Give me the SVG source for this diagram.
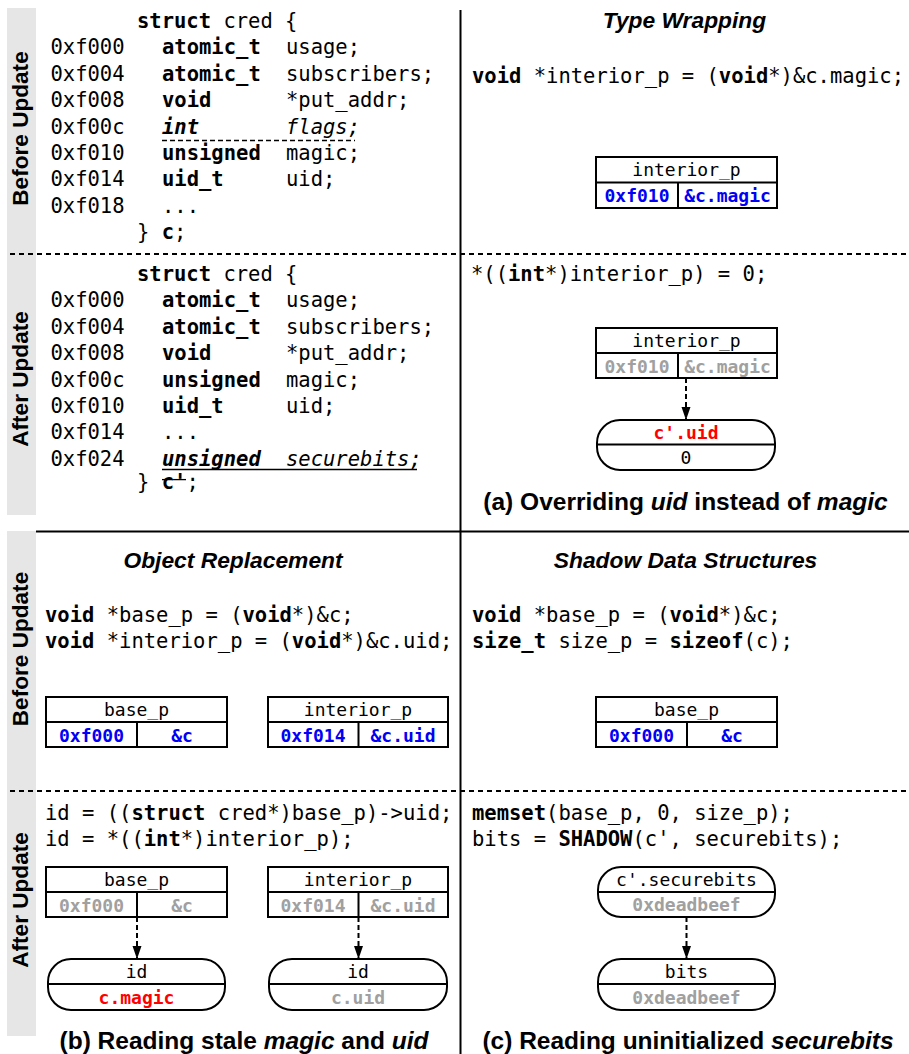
<svg xmlns="http://www.w3.org/2000/svg" width="909" height="1054" viewBox="0 0 909 1054">
  <style>
    .code { font-family: "DejaVu Sans Mono", monospace; font-size: 20.5px; fill: #000; }
    .b { font-weight: bold; }
    .i { font-style: italic; }
    .side { font-family: "Liberation Sans", Arial, sans-serif; font-weight: bold; font-size: 22.6px; text-anchor: middle; fill: #000; }
    .title { font-family: "Liberation Sans", Arial, sans-serif; font-weight: bold; font-style: italic; font-size: 22.8px; text-anchor: middle; fill: #000; }
    .cap { font-family: "Liberation Sans", Arial, sans-serif; font-weight: bold; font-size: 24.5px; text-anchor: middle; fill: #000; }
    .frame { fill: #fff; stroke: #000; stroke-width: 2; }
    .rule { stroke: #000; stroke-width: 2; fill: none; }
    .cell { font-family: "DejaVu Sans Mono", monospace; font-size: 18px; text-anchor: middle; fill: #000; }
    .blue { fill: #0000f5; font-weight: bold; }
    .gray { fill: #a0a0a0; font-weight: bold; }
    .red { fill: #ff0000; font-weight: bold; }
    .band { fill: #e6e6e6; }
    .sep { stroke: #000; stroke-width: 2; fill: none; }
    .sepdash { stroke: #000; stroke-width: 2; stroke-dasharray: 5 4; fill: none; }
    .conn { stroke: #000; stroke-width: 2; stroke-dasharray: 5 3; fill: none; marker-end: url(#ah); }
  </style>
  <defs>
    <marker id="ah" markerUnits="userSpaceOnUse" markerWidth="14" markerHeight="10" refX="13" refY="4.5" orient="auto">
      <path d="M0,0 L13,4.5 L0,9 z" fill="#000"/>
    </marker>
  </defs>

  <rect width="909" height="1054" fill="#fff"/>

  <!-- side bands with row labels -->
  <g id="bands">
    <rect class="band" x="7" y="8" width="29" height="507"/>
    <rect class="band" x="7" y="531" width="29" height="505"/>
    <text class="side" transform="translate(28,128.5) rotate(-90)">Before Update</text>
    <text class="side" transform="translate(28,379) rotate(-90)">After Update</text>
    <text class="side" transform="translate(28,649) rotate(-90)">Before Update</text>
    <text class="side" transform="translate(28,900) rotate(-90)">After Update</text>
  </g>

  <!-- panel separators -->
  <g id="separators">
    <line class="sep" x1="460.5" y1="10" x2="460.5" y2="1054"/>
    <line class="sep" x1="36" y1="531.5" x2="909" y2="531.5"/>
    <line class="sepdash" x1="10" y1="254" x2="909" y2="254"/>
    <line class="sepdash" x1="10" y1="791" x2="909" y2="791"/>
  </g>

  <!-- struct cred, old layout -->
  <g id="struct-old" class="code">
    <text x="137" y="28"><tspan class="b">struct</tspan> cred {</text>
    <text y="54.4"><tspan x="50.5">0xf000</tspan><tspan x="162" class="b">atomic_t</tspan><tspan x="286">usage;</tspan></text>
    <text y="80.8"><tspan x="50.5">0xf004</tspan><tspan x="162" class="b">atomic_t</tspan><tspan x="286">subscribers;</tspan></text>
    <text y="107.2"><tspan x="50.5">0xf008</tspan><tspan x="162" class="b">void</tspan><tspan x="286">*put_addr;</tspan></text>
    <text y="133.6"><tspan x="50.5">0xf00c</tspan><tspan x="162" class="b i">int</tspan><tspan x="286" class="i">flags;</tspan></text>
    <text y="160"><tspan x="50.5">0xf010</tspan><tspan x="162" class="b">unsigned</tspan><tspan x="286">magic;</tspan></text>
    <text y="186.4"><tspan x="50.5">0xf014</tspan><tspan x="162" class="b">uid_t</tspan><tspan x="286">uid;</tspan></text>
    <text y="212.8"><tspan x="50.5">0xf018</tspan><tspan x="162">...</tspan></text>
    <text x="137" y="239.2">} <tspan class="b">c</tspan>;</text>
    <line x1="162" y1="140.5" x2="355" y2="140.5" stroke="#000" stroke-width="1.3" stroke-dasharray="5 3"/>
  </g>

  <!-- struct cred, new layout -->
  <g id="struct-new" class="code">
    <text x="137" y="281"><tspan class="b">struct</tspan> cred {</text>
    <text y="307.4"><tspan x="50.5">0xf000</tspan><tspan x="162" class="b">atomic_t</tspan><tspan x="286">usage;</tspan></text>
    <text y="333.8"><tspan x="50.5">0xf004</tspan><tspan x="162" class="b">atomic_t</tspan><tspan x="286">subscribers;</tspan></text>
    <text y="360.2"><tspan x="50.5">0xf008</tspan><tspan x="162" class="b">void</tspan><tspan x="286">*put_addr;</tspan></text>
    <text y="386.6"><tspan x="50.5">0xf00c</tspan><tspan x="162" class="b">unsigned</tspan><tspan x="286">magic;</tspan></text>
    <text y="413"><tspan x="50.5">0xf010</tspan><tspan x="162" class="b">uid_t</tspan><tspan x="286">uid;</tspan></text>
    <text y="439.4"><tspan x="50.5">0xf014</tspan><tspan x="162">...</tspan></text>
    <text y="465.8"><tspan x="50.5">0xf024</tspan><tspan x="162" class="b i">unsigned</tspan><tspan x="286" class="i">securebits;</tspan></text>
    <text x="137" y="488.5">} <tspan class="b">c'</tspan>;</text>
    <line x1="162" y1="469.5" x2="417" y2="469.5" stroke="#000" stroke-width="1.3"/>
    <line x1="162" y1="479.6" x2="186" y2="479.6" stroke="#000" stroke-width="1.3"/>
  </g>

  <!-- panel (a): type wrapping -->
  <g id="panel-a" class="code">
    <text class="title" x="684.5" y="28">Type Wrapping</text>
    <text x="472" y="82.5"><tspan class="b">void</tspan> *interior_p = (<tspan class="b">void</tspan>*)&amp;c.magic;</text>
    <text x="471" y="281">*((<tspan class="b">int</tspan>*)interior_p) = 0;</text>
    <text class="cap" x="685.5" y="510">(a) Overriding <tspan font-style="italic">uid</tspan> instead of <tspan font-style="italic">magic</tspan></text>
  </g>

  <g id="a-interior-before">
    <rect class="frame" x="596" y="157" width="181" height="51"/>
    <line class="rule" x1="596" y1="182.5" x2="777" y2="182.5"/>
    <line class="rule" x1="678" y1="182.5" x2="678" y2="208"/>
    <text class="cell" x="686.5" y="176">interior_p</text>
    <text class="cell blue" x="637" y="201.5">0xf010</text>
    <text class="cell blue" x="727.5" y="201.5">&amp;c.magic</text>
  </g>

  <g id="a-interior-after">
    <rect class="frame" x="596" y="328" width="181" height="50"/>
    <line class="rule" x1="596" y1="353" x2="777" y2="353"/>
    <line class="rule" x1="678" y1="353" x2="678" y2="378"/>
    <text class="cell" x="686.5" y="347">interior_p</text>
    <text class="cell gray" x="637" y="372.5">0xf010</text>
    <text class="cell gray" x="727.5" y="372.5">&amp;c.magic</text>
  </g>

  <g id="a-cuid">
    <rect class="frame" x="597" y="420" width="178" height="50" rx="23" ry="23"/>
    <line class="rule" x1="597" y1="444.5" x2="775" y2="444.5"/>
    <text class="cell red" x="686" y="438.5">c'.uid</text>
    <text class="cell" x="686" y="463.5">0</text>
  </g>

  <!-- panel (b): object replacement -->
  <g id="panel-b" class="code">
    <text class="title" x="233" y="568">Object Replacement</text>
    <text x="45" y="621.5"><tspan class="b">void</tspan> *base_p = (<tspan class="b">void</tspan>*)&amp;c;</text>
    <text x="45" y="648"><tspan class="b">void</tspan> *interior_p = (<tspan class="b">void</tspan>*)&amp;c.uid;</text>
    <text x="45" y="820">id = ((<tspan class="b">struct</tspan> cred*)base_p)-&gt;uid;</text>
    <text x="45" y="846">id = *((<tspan class="b">int</tspan>*)interior_p);</text>
    <text class="cap" x="244" y="1049">(b) Reading stale <tspan font-style="italic">magic</tspan> and <tspan font-style="italic">uid</tspan></text>
  </g>

  <g id="b-base-before">
    <rect class="frame" x="46" y="697" width="181" height="50"/>
    <line class="rule" x1="46" y1="722" x2="227" y2="722"/>
    <line class="rule" x1="137" y1="722" x2="137" y2="747"/>
    <text class="cell" x="136.5" y="716">base_p</text>
    <text class="cell blue" x="91.5" y="741.5">0xf000</text>
    <text class="cell blue" x="182" y="741.5">&amp;c</text>
  </g>

  <g id="b-interior-before">
    <rect class="frame" x="268" y="697" width="180" height="50"/>
    <line class="rule" x1="268" y1="722" x2="448" y2="722"/>
    <line class="rule" x1="358.5" y1="722" x2="358.5" y2="747"/>
    <text class="cell" x="358" y="716">interior_p</text>
    <text class="cell blue" x="313" y="741.5">0xf014</text>
    <text class="cell blue" x="403" y="741.5">&amp;c.uid</text>
  </g>

  <g id="b-base-after">
    <rect class="frame" x="46" y="867" width="181" height="50"/>
    <line class="rule" x1="46" y1="892" x2="227" y2="892"/>
    <line class="rule" x1="137" y1="892" x2="137" y2="917"/>
    <text class="cell" x="136.5" y="886">base_p</text>
    <text class="cell gray" x="91.5" y="911.5">0xf000</text>
    <text class="cell gray" x="182" y="911.5">&amp;c</text>
  </g>

  <g id="b-interior-after">
    <rect class="frame" x="268" y="867" width="180" height="50"/>
    <line class="rule" x1="268" y1="892" x2="448" y2="892"/>
    <line class="rule" x1="358.5" y1="892" x2="358.5" y2="917"/>
    <text class="cell" x="358" y="886">interior_p</text>
    <text class="cell gray" x="313" y="911.5">0xf014</text>
    <text class="cell gray" x="403" y="911.5">&amp;c.uid</text>
  </g>

  <g id="b-id-magic">
    <rect class="frame" x="48" y="959" width="177" height="51" rx="23" ry="23"/>
    <line class="rule" x1="48" y1="984" x2="225" y2="984"/>
    <text class="cell" x="136.5" y="978">id</text>
    <text class="cell red" x="136.5" y="1003.5">c.magic</text>
  </g>

  <g id="b-id-uid">
    <rect class="frame" x="269" y="959" width="178" height="51" rx="23" ry="23"/>
    <line class="rule" x1="269" y1="984" x2="447" y2="984"/>
    <text class="cell" x="358" y="978">id</text>
    <text class="cell gray" x="358" y="1003.5">c.uid</text>
  </g>

  <!-- panel (c): shadow data structures -->
  <g id="panel-c" class="code">
    <text class="title" x="685.5" y="568">Shadow Data Structures</text>
    <text x="472" y="621.5"><tspan class="b">void</tspan> *base_p = (<tspan class="b">void</tspan>*)&amp;c;</text>
    <text x="472" y="648"><tspan class="b">size_t</tspan> size_p = <tspan class="b">sizeof</tspan>(c);</text>
    <text x="472" y="820"><tspan class="b">memset</tspan>(base_p, 0, size_p);</text>
    <text x="472" y="846">bits = <tspan class="b">SHADOW</tspan>(c', securebits);</text>
    <text class="cap" x="688" y="1049">(c) Reading uninitialized <tspan font-style="italic">securebits</tspan></text>
  </g>

  <g id="c-base-before">
    <rect class="frame" x="596" y="697" width="181" height="50"/>
    <line class="rule" x1="596" y1="722" x2="777" y2="722"/>
    <line class="rule" x1="687" y1="722" x2="687" y2="747"/>
    <text class="cell" x="686.5" y="716">base_p</text>
    <text class="cell blue" x="641.5" y="741.5">0xf000</text>
    <text class="cell blue" x="732" y="741.5">&amp;c</text>
  </g>

  <g id="c-securebits">
    <rect class="frame" x="598" y="867" width="177" height="50" rx="23" ry="23"/>
    <line class="rule" x1="598" y1="892" x2="775" y2="892"/>
    <text class="cell" x="686.5" y="885.5">c'.securebits</text>
    <text class="cell gray" x="686.5" y="911">0xdeadbeef</text>
  </g>

  <g id="c-bits">
    <rect class="frame" x="598" y="959" width="177" height="51" rx="23" ry="23"/>
    <line class="rule" x1="598" y1="984" x2="775" y2="984"/>
    <text class="cell" x="686.5" y="978">bits</text>
    <text class="cell gray" x="686.5" y="1003.5">0xdeadbeef</text>
  </g>

  <!-- dereference connectors -->
  <g id="connectors">
    <line class="conn" x1="686" y1="378" x2="686" y2="420"/>
    <line class="conn" x1="137" y1="917" x2="137" y2="959"/>
    <line class="conn" x1="358.5" y1="917" x2="358.5" y2="959"/>
    <line class="conn" x1="686.5" y1="917" x2="686.5" y2="959"/>
  </g>
</svg>
